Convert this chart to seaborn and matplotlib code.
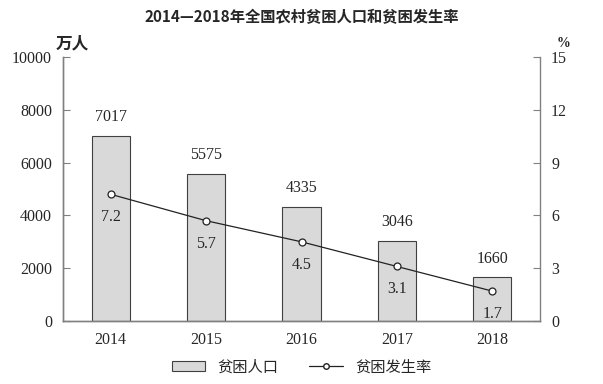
import matplotlib.pyplot as plt
import pandas as pd
import seaborn as sns
from matplotlib.patches import Patch
from matplotlib.lines import Line2D

years = ["2014", "2015", "2016", "2017", "2018"]
population = [7017, 5575, 4335, 3046, 1660]
rate = [7.2, 5.7, 4.5, 3.1, 1.7]

df = pd.DataFrame({"year": years, "population": population, "rate": rate})

sns.set_style("white")
plt.rcParams["font.family"] = ["Liberation Serif", "Noto Sans CJK SC", "DejaVu Sans"]
cjk = ["Noto Sans CJK SC", "DejaVu Sans"]

fig = plt.figure(figsize=(6.03, 3.84), dpi=100)
ax = fig.add_axes([0.1045, 0.164, 0.791, 0.6875])

# bars: rural poor population
sns.barplot(data=df, x="year", y="population", ax=ax, width=0.4,
            color="#d9d9d9", edgecolor="#404040", linewidth=0.8, saturation=1)
ax.set_ylim(0, 10000)
ax.set_yticks(range(0, 10001, 2000))
ax.set_xlabel("")
ax.set_ylabel("")
for i, v in enumerate(population):
    ax.text(i, v + 400, str(v), ha="center", va="bottom", fontsize=11.5)

# line: poverty rate
ax2 = ax.twinx()
sns.lineplot(data=df, x="year", y="rate", ax=ax2, color="#222222", linewidth=0.9,
             marker="o", markersize=5, markerfacecolor="white",
             markeredgecolor="#222222", markeredgewidth=0.9)
ax2.set_ylim(0, 15)
ax2.set_yticks(range(0, 16, 3))
ax2.set_ylabel("")
for i, v in enumerate(rate):
    ax2.text(i, v - 1.3, f"{v}", ha="center", va="center", fontsize=11.5)

for a in (ax, ax2):
    for s in a.spines.values():
        s.set_color("#808080")
        s.set_linewidth(1)
    a.spines["top"].set_visible(False)
    a.tick_params(axis="y", direction="in", length=5, color="#808080",
                  labelsize=11.5, pad=8)
    a.tick_params(axis="x", length=0, labelsize=11.5, pad=8)
ax.spines["right"].set_visible(False)
ax.set_xlim(-0.5, 4.5)

fig.text(0.5, 0.955, "2014—2018年全国农村贫困人口和贫困发生率", ha="center",
         va="center", fontsize=11, fontweight="bold", family=cjk)
fig.text(0.12, 0.888, "万人", ha="center", va="center", fontsize=12,
         fontweight="bold", family=cjk)
fig.text(0.935, 0.888, "%", ha="center", va="center", fontsize=10,
         fontweight="bold")

handles = [Patch(facecolor="#d9d9d9", edgecolor="#404040", linewidth=0.8),
           Line2D([0], [0], color="#222222", linewidth=0.9, marker="o",
                  markersize=4, markerfacecolor="white", markeredgecolor="#222222")]
fig.legend(handles, ["贫困人口", "贫困发生率"], loc="center", ncol=2,
           bbox_to_anchor=(0.5, 0.045), frameon=False,
           prop={"family": cjk, "size": 11}, handlelength=2.2, handleheight=0.6,
           columnspacing=2)

fig.savefig("out.png", dpi=100)
